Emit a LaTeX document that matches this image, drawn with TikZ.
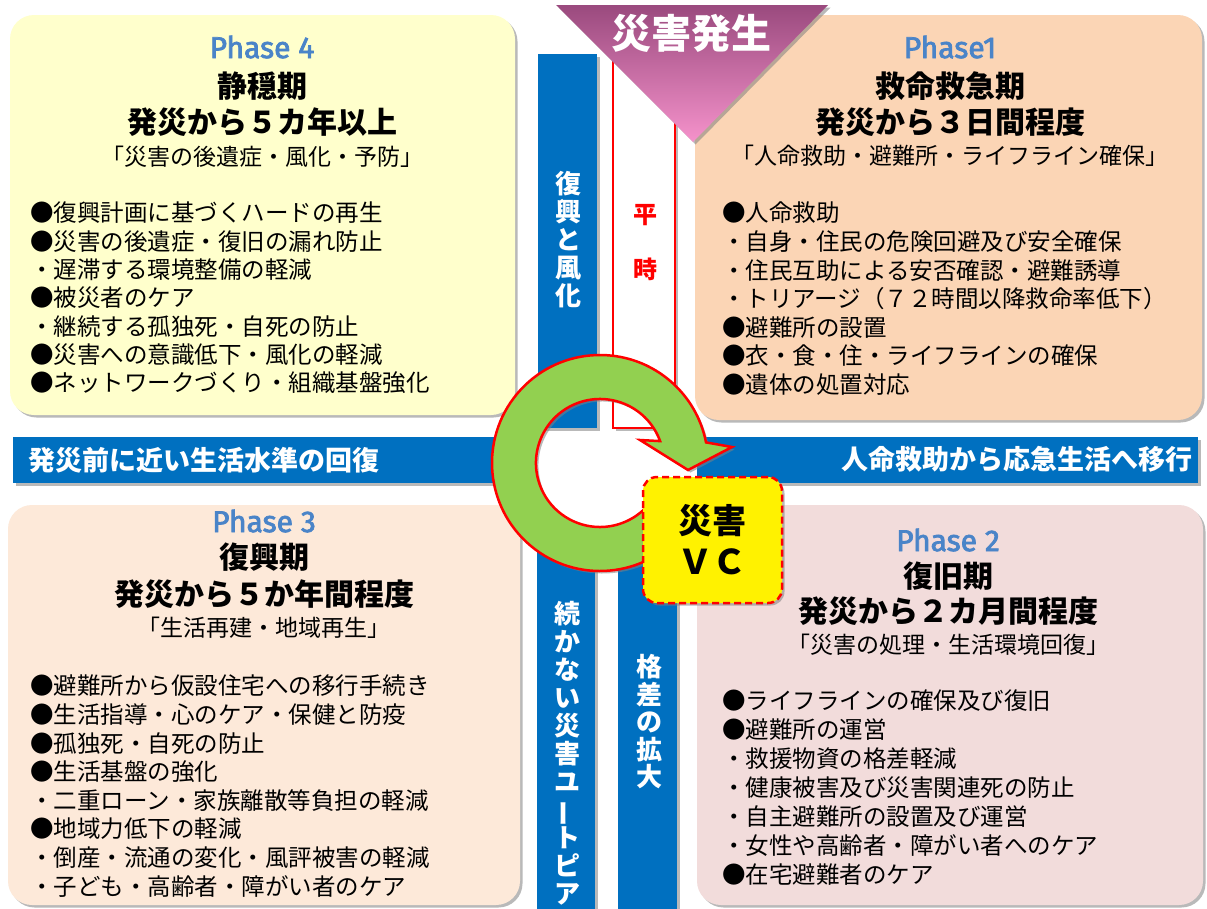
\documentclass[tikz,border=0pt]{standalone}
\usepackage{fontspec}
\usepackage{graphicx}
\setmainfont{Noto Sans CJK JP}
\newfontfamily\phasefont{Fira Sans}[AutoFakeBold=2.5]
\usetikzlibrary{shadows}
\definecolor{pfour}{HTML}{FFFFCC}
\definecolor{pone}{HTML}{FBD5B5}
\definecolor{pthree}{HTML}{FDE9D9}
\definecolor{ptwo}{HTML}{F2DCDB}
\definecolor{vcblue}{HTML}{0070C0}
\definecolor{phaseblue}{HTML}{4A84C8}
\definecolor{ringgreen}{HTML}{92D050}
\definecolor{tritop}{HTML}{9A4A7E}
\definecolor{tribot}{HTML}{F592CB}
\newcommand\blist[5]{\foreach \t [count=\i from 0] in {#5} {\node[body] (#1\i) at (#2,{#3+#4*\i}) {\t};}}
\begin{document}
\begin{tikzpicture}[x=1pt,y=-1pt,
  shd/.style={drop shadow={shadow xshift=2.5pt,shadow yshift=-2.5pt,fill=black!50,opacity=0.55}},
  phasebox/.style={rounded corners=24pt, shd},
  bluebar/.style={fill=vcblue, shd},
  body/.style={anchor=west, inner sep=0pt, font=\fontsize{23.5}{28}\selectfont},
  ttl/.style={inner sep=0pt, font=\bfseries\fontsize{30}{34}\selectfont},
  sub/.style={inner sep=0pt, font=\fontsize{23}{26}\selectfont},
  phl/.style={inner sep=0pt, text=phaseblue, font=\phasefont\bfseries\fontsize{30}{32}\selectfont},
  bartxt/.style={inner sep=0pt, text=white, font=\bfseries\fontsize{27}{30}\selectfont},
  vtxt/.style={inner sep=0pt, text=white, align=center, font=\bfseries\fontsize{26}{28}\selectfont},
]
\useasboundingbox (0,0) rectangle (1207,908);
\fill[white] (0,0) rectangle (1207,908);

% phase boxes
\path[phasebox, fill=pfour] (10,15) rectangle (515,415);
\path[phasebox, fill=pone] (695,15) rectangle (1202,420);
\path[phasebox, fill=pthree] (8,505) rectangle (520,905);
\path[phasebox, fill=ptwo] (697,505) rectangle (1203,905);

% bars
\path[bluebar] (538,54) rectangle (597,428);
\path[shd, fill=white, draw=red, line width=2.5pt] (613,58) rectangle (675,428);
\path[bluebar] (13,437) rectangle (520,483);
\path[bluebar] (697,437) rectangle (1198,483);
\path[bluebar] (537,540) rectangle (595,912);
\path[bluebar] (618,540) rectangle (677,912);

% triangle
\shade[top color=tritop, bottom color=tribot, shd] (556,5) -- (828,5) -- (693,142) -- cycle;
\node[inner sep=0pt, text=white, font=\bfseries\fontsize{40}{44}\selectfont] (tri) at (691,33) {災害発生};

% ring arrow
\coordinate (c) at (600,463);
\path[shd, fill=ringgreen, draw=red, line width=2.5pt, line join=miter]
  (c) ++(40:108) arc[start angle=40, end angle=349, radius=108]
  -- (732,447) -- (688,470) -- (640,440)
  -- (660.1,441.1) arc[start angle=340, end angle=40, radius=64] -- cycle;

% VC box
\node[shd, fill=yellow, draw=red, dashed, dash pattern=on 7pt off 4pt, line width=2.5pt,
  rounded corners=14pt, minimum width=139pt, minimum height=126pt, align=center,
  font=\bfseries\fontsize{34}{41}\selectfont] (vc) at (712.5,540) {災害\\ＶＣ};

% bar texts
\node[bartxt, anchor=west] (lefttxt) at (28,460) {発災前に近い生活水準の回復};
\node[bartxt, anchor=east] (righttxt) at (1193,459) {人命救助から応急生活へ移行};
\node[vtxt] (v1) at (568,240) {復\\興\\と\\風\\化};
\node[vtxt, text=red, font=\bfseries\fontsize{24}{55}\selectfont] (heiji) at (645,243) {平\\時};
\node[vtxt] (v2) at (567,753) {続\\か\\な\\い\\災\\害\\ユ\\\rotatebox[origin=c]{90}{ー}\\ト\\ピ\\ア};
\node[vtxt, font=\bfseries\fontsize{26}{27.5}\selectfont] (v3) at (649,722) {格\\差\\の\\拡\\大};

% Phase 4
\node[phl] (p4a) at (262,47) {Phase 4};
\node[ttl] (p4b) at (262,86) {静穏期};
\node[ttl] (p4c) at (262,122) {発災から５カ年以上};
\node[sub] (p4d) at (262,157) {「災害の後遺症・風化・予防」};
\blist{pf}{30}{213}{28.3}{●復興計画に基づくハードの再生,●災害の後遺症・復旧の漏れ防止,・遅滞する環境整備の軽減,●被災者のケア,・継続する孤独死・自死の防止,●災害への意識低下・風化の軽減,●ネットワークづくり・組織基盤強化}

% Phase 1
\node[phl] (p1a) at (950,47) {Phase1};
\node[ttl] (p1b) at (950,86) {救命救急期};
\node[ttl] (p1c) at (950,122) {発災から３日間程度};
\node[sub] (p1d) at (950,156) {「人命救助・避難所・ライフライン確保」};
\blist{po}{722}{213}{28.6}{●人命救助,・自身・住民の危険回避及び安全確保,・住民互助による安否確認・避難誘導,・トリアージ（７２時間以降救命率低下）,●避難所の設置,●衣・食・住・ライフラインの確保,●遺体の処置対応}

% Phase 3
\node[phl] (p3a) at (264,521) {Phase 3};
\node[ttl] (p3b) at (264,557) {復興期};
\node[ttl] (p3c) at (264,594) {発災から５か年間程度};
\node[sub] (p3d) at (264,628) {「生活再建・地域再生」};
\blist{pt}{30}{686}{28.6}{●避難所から仮設住宅への移行手続き,●生活指導・心のケア・保健と防疫,●孤独死・自死の防止,●生活基盤の強化,・二重ローン・家族離散等負担の軽減,●地域力低下の軽減,・倒産・流通の変化・風評被害の軽減,・子ども・高齢者・障がい者のケア}

% Phase 2
\node[phl] (p2a) at (948,540) {Phase 2};
\node[ttl] (p2b) at (948,576) {復旧期};
\node[ttl] (p2c) at (948,611) {発災から２カ月間程度};
\node[sub] (p2d) at (948,645) {「災害の処理・生活環境回復」};
\blist{pw}{722}{701}{28.9}{●ライフラインの確保及び復旧,●避難所の運営,・救援物資の格差軽減,・健康被害及び災害関連死の防止,・自主避難所の設置及び運営,・女性や高齢者・障がい者へのケア,●在宅避難者のケア}
\end{tikzpicture}
\end{document}
